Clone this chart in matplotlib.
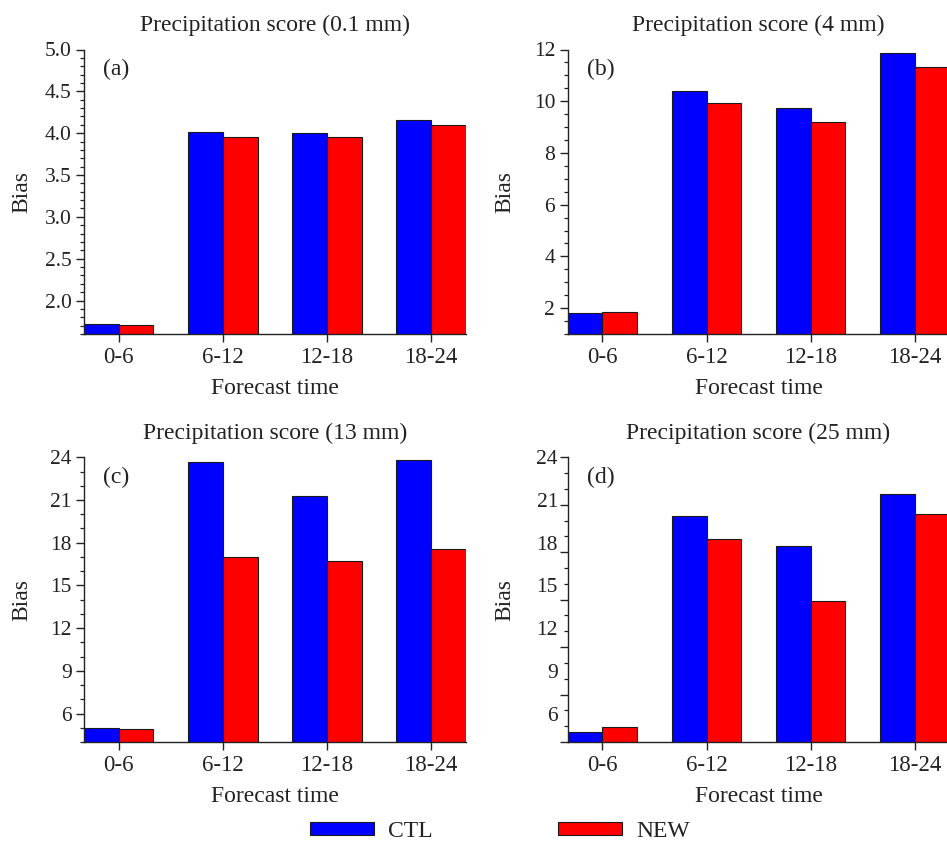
import matplotlib
matplotlib.use("Agg")
import matplotlib.pyplot as plt
from matplotlib.ticker import MultipleLocator
import numpy as np

## DATA
times = ["0-6", "6-12", "12-18", "18-24"]
titles = ["Precipitation score (0.1 mm)", "Precipitation score (4 mm)",
          "Precipitation score (13 mm)", "Precipitation score (25 mm)"]
panel_tags = ["(a)", "(b)", "(c)", "(d)"]

ctl_01 = [1.72, 4.01, 4.00, 4.16]
new_01 = [1.71, 3.96, 3.95, 4.10]
ctl_4 = [1.82, 10.39, 9.73, 11.87]
new_4 = [1.84, 9.93, 9.20, 11.32]
ctl_13 = [5.00, 23.67, 21.26, 23.81]
new_13 = [4.93, 16.98, 16.72, 17.58]
ctl_25 = [4.70, 19.87, 17.76, 21.42]
new_25 = [5.07, 18.28, 13.92, 20.01]

plt.rcParams["font.family"] = ["Liberation Serif", "DejaVu Serif"]
TXT = "#222222"

fig = plt.figure(figsize=(9.47, 8.41), dpi=100)

W, H = 947.0, 841.0
def place(left, top, right, bottom):
    return [left / W, 1 - bottom / H, (right - left) / W, (bottom - top) / H]

boxes = [place(84, 49.5, 465.7, 334), place(567.7, 49.5, 949.4, 334),
         place(84, 457.3, 465.7, 742), place(567.7, 457.3, 949.4, 742)]
ylims = [(1.6, 5.0), (1.0, 12.0), (4.0, 24.0), (4.0, 24.0)]
majors = [0.5, 2, 3, 3]
minors = [0.1, 0.5, 1, 1]
fmts = ["%.1f", "%d", "%d", "%d"]
series = [(ctl_01, new_01), (ctl_4, new_4), (ctl_13, new_13), (ctl_25, new_25)]

x = np.arange(len(times))
w = 1.0 / 3
handles = None

for i in range(4):
    ax = fig.add_axes(boxes[i])
    ctl, new = series[i]
    b1 = ax.bar(x - w / 2, ctl, w, color="#0000ff", edgecolor="#1a1a1a", linewidth=0.8, label="CTL")
    b2 = ax.bar(x + w / 2, new, w, color="#ff0000", edgecolor="#1a1a1a", linewidth=0.8, label="NEW")
    if handles is None:
        handles = [b1, b2]

    ax.set_xlim(-w, 3 + w)
    ax.set_ylim(*ylims[i])
    ax.set_xticks(x)
    ax.set_xticklabels(times)

    for s in ["top", "right"]:
        ax.spines[s].set_visible(False)
    for s in ["left", "bottom"]:
        ax.spines[s].set_linewidth(1.0)
        ax.spines[s].set_color(TXT)

    ax.tick_params(axis="both", which="major", direction="out", length=5.5, width=1.0, colors=TXT)
    ax.tick_params(axis="y", which="major", labelsize=15.5)
    ax.tick_params(axis="y", which="minor", direction="out", length=3, width=0.9, colors=TXT)
    ax.tick_params(axis="x", labelsize=16.5, pad=4)

    if i < 3:
        ax.yaxis.set_major_locator(MultipleLocator(majors[i]))
        ax.yaxis.set_minor_locator(MultipleLocator(minors[i]))
        ax.yaxis.set_major_formatter(matplotlib.ticker.FormatStrFormatter(fmts[i]))
    else:
        # panel (d): labels on 4-24, tick marks drawn as if the axis ran 6-24
        ax.set_yticks(np.arange(6, 25, 3))
        ax.tick_params(axis="y", which="major", length=0, pad=7)
        tk = ax.twinx()
        tk.set_ylim(6, 24)
        tk.yaxis.tick_left()
        tk.yaxis.set_major_locator(MultipleLocator(3))
        tk.yaxis.set_minor_locator(MultipleLocator(1))
        tk.tick_params(axis="y", which="major", direction="out", length=5.5, width=1.0,
                       labelleft=False, labelright=False, colors=TXT)
        tk.tick_params(axis="y", which="minor", direction="out", length=3, width=0.9, colors=TXT)
        for s in tk.spines.values():
            s.set_visible(False)

    ax.set_title(titles[i], fontsize=17, color=TXT, pad=13)
    ax.set_xlabel("Forecast time", fontsize=17, color=TXT, labelpad=7)
    ax.set_ylabel("Bias", fontsize=17, color=TXT)
    ax.yaxis.set_label_coords(-0.136, 0.5)
    ax.text(0.05, 0.93, panel_tags[i], transform=ax.transAxes, fontsize=17,
            color=TXT, ha="left", va="center")

fig.legend(handles, ["CTL", "NEW"], loc="center", bbox_to_anchor=(0.528, 0.0115), ncol=2,
           frameon=False, fontsize=17, handlelength=2.7, handleheight=0.5,
           handletextpad=0.6, columnspacing=5.3, labelcolor=TXT)

fig.savefig("out.png", dpi=100)
